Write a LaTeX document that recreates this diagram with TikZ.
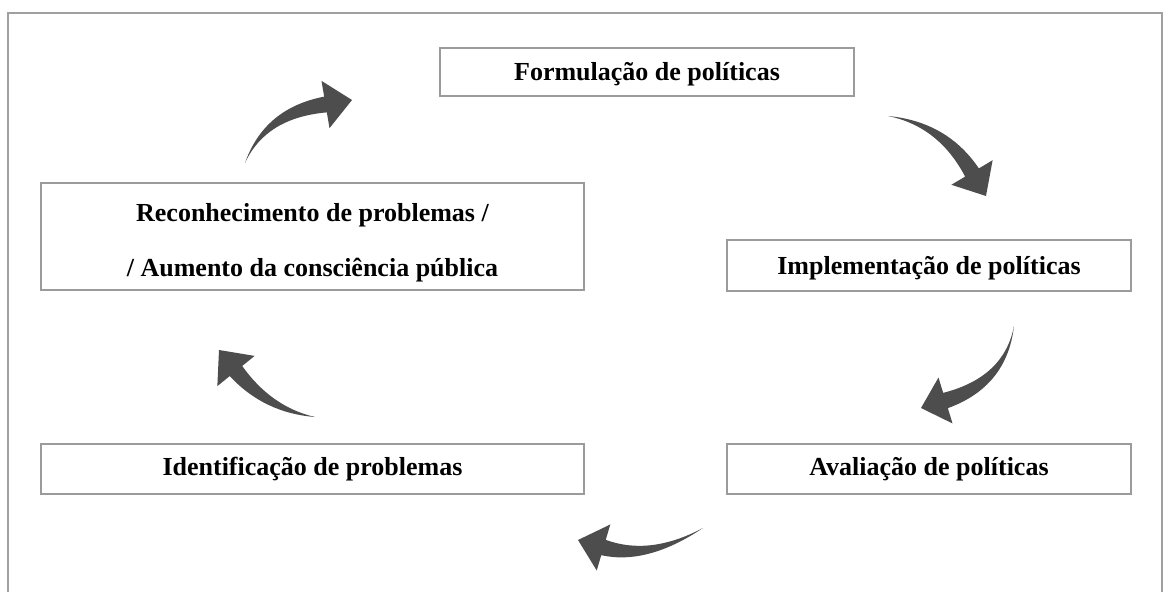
\documentclass[tikz,border=0pt]{standalone}
\usepackage{fontspec}
\setmainfont{Liberation Serif}
\usetikzlibrary{calc}
\definecolor{framegray}{RGB}{160,160,160}
\definecolor{boxgray}{RGB}{155,155,155}
\definecolor{arrowgray}{RGB}{77,77,77}
\newcommand{\shaftw}{8pt}
\newcommand{\headw}{24pt}
% tail, control, head-base middle, tip
\newcommand{\bentarrow}[4]{%
  \coordinate (aP) at #1;
  \coordinate (aQ) at #2;
  \coordinate (aM) at #3;
  \coordinate (aT) at #4;
  \coordinate (aS1) at ($(aM)!\shaftw!90:(aT)$);
  \coordinate (aS2) at ($(aM)!\shaftw!-90:(aT)$);
  \coordinate (aH1) at ($(aM)!\headw!90:(aT)$);
  \coordinate (aH2) at ($(aM)!\headw!-90:(aT)$);
  \coordinate (aQ1) at ($(aQ)+0.6*(aS1)-0.6*(aM)$);
  \coordinate (aQ2) at ($(aQ)+0.6*(aS2)-0.6*(aM)$);
  \fill[arrowfill] (aP) .. controls ($(aP)!0.6667!(aQ1)$) and ($(aS1)!0.6667!(aQ1)$) .. (aS1)
    -- (aH1) -- (aT) -- (aH2) -- (aS2)
    .. controls ($(aS2)!0.6667!(aQ2)$) and ($(aP)!0.6667!(aQ2)$) .. (aP) -- cycle;
}
\tikzset{
  stagebox/.style={draw=boxgray, line width=1.3pt, fill=white, inner sep=0pt, rectangle},
  stagetext/.style={anchor=base, inner sep=0pt, font=\fontsize{26}{30}\selectfont\bfseries, text=black},
  arrowfill/.style={fill=arrowgray},
  frameline/.style={draw=framegray, line width=1.6pt}
}
\begin{document}
\begin{tikzpicture}[x=1pt,y=-1pt]
\useasboundingbox (0,0) rectangle (1163,592);
% outer frame (bottom edge lies outside the picture)
\coordinate (fbl) at (8,600);
\coordinate (ftl) at (8,13);
\coordinate (ftr) at (1162,13);
\coordinate (fbr) at (1162,600);
\draw[frameline] (fbl) -- (ftl) -- (ftr) -- (fbr);

% boxes
\node[stagebox, minimum width=414, minimum height=48] (form) at (647,72) {};
\node[stagebox, minimum width=543, minimum height=107] (rec) at (312.5,236.5) {};
\node[stagebox, minimum width=404, minimum height=51] (impl) at (929,265.5) {};
\node[stagebox, minimum width=543, minimum height=50] (ident) at (312.5,469) {};
\node[stagebox, minimum width=404, minimum height=50] (aval) at (929,469) {};

% texts
\node[stagetext] (formt) at (647,80) {Formulação de políticas};
\node[stagetext] (rect1) at (312.5,221) {Reconhecimento de problemas /};
\node[stagetext] (rect2) at (312.5,276) {/ Aumento da consciência pública};
\node[stagetext] (implt) at (929,274) {Implementação de políticas};
\node[stagetext] (identt) at (312.5,475) {Identificação de problemas};
\node[stagetext] (avalt) at (929,475) {Avaliação de políticas};

% curved arrows
\bentarrow{(245,163)}{(265,113)}{(325.5,104.5)}{(352,100)}
\bentarrow{(888,116)}{(943,124)}{(972,172.5)}{(986,196)}
\bentarrow{(1014,326)}{(1005.6,382)}{(945.5,400.5)}{(921,408)}
\bentarrow{(703,528)}{(648.4,560.8)}{(603.5,547.5)}{(578,540)}
\bentarrow{(315,417)}{(267.5,409.9)}{(236,371)}{(219,350)}
\end{tikzpicture}
\end{document}
